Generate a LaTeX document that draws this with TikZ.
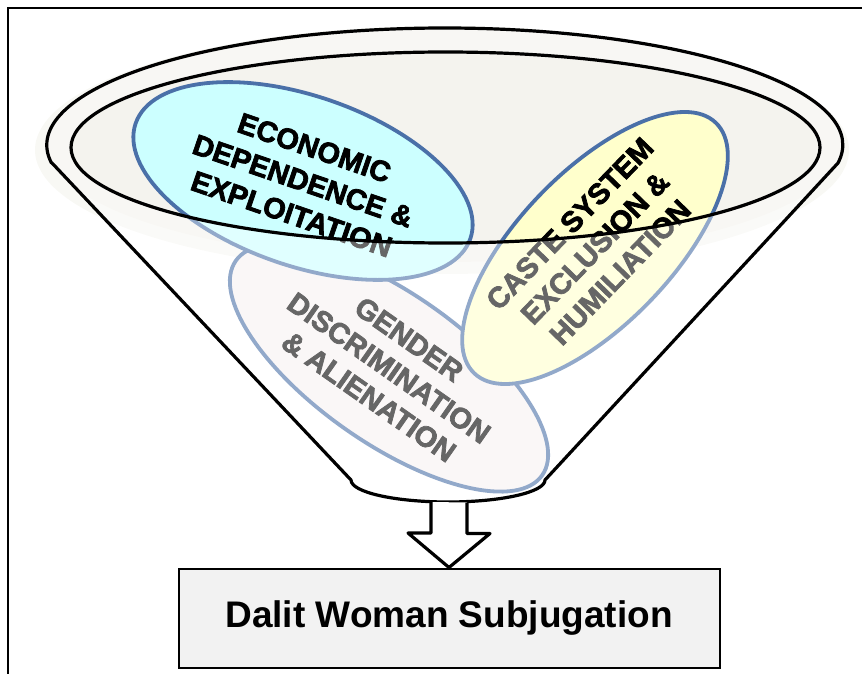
\documentclass[tikz,border=0pt]{standalone}
\usepackage{fontspec}
\setmainfont{Liberation Sans}
\newfontfamily\heavyfont{Liberation Sans Bold}[FakeBold=2.5]
\usetikzlibrary{shapes.geometric}
\definecolor{rimblue}{HTML}{4A70A8}
\definecolor{cyanfill}{HTML}{CCFFFF}
\definecolor{yellowfill}{HTML}{FFFFCC}
\definecolor{pinkfill}{HTML}{F7F2F2}
\definecolor{bowlgray}{HTML}{F4F3EE}
\definecolor{glowgray}{HTML}{F8F8F4}
\definecolor{boxgray}{HTML}{F2F2F2}
\tikzset{
  factor/.style={ellipse,draw=rimblue,line width=3.8pt,inner sep=0pt,align=center,
    font=\heavyfont\fontsize{29}{35}\selectfont},
  funnelline/.style={line width=3.2pt,line join=round},
  resultbox/.style={rectangle,draw,line width=2pt,fill=boxgray,minimum width=541pt,
    minimum height=99pt,font=\bfseries\fontsize{37}{44}\selectfont}
}

\begin{document}
\begin{tikzpicture}[x=1pt,y=-1pt]
            \draw[draw=none,use as bounding box] (0,0) rectangle (862,674);
            \draw[line width=2.4pt] (8,8) rectangle (900,700);
            % bowl of the funnel
            \fill[glowgray] (442,150) ellipse[x radius=407,y radius=124];
            \fill[bowlgray] (445,145) ellipse[x radius=398,y radius=117];
            \node[factor,fill=pinkfill,minimum width=374pt,minimum height=150pt,rotate=-35] (gender) at (389,368) {GENDER\\DISCRIMINATION\\\& ALIENATION};
            \node[factor,fill=yellowfill,minimum width=348pt,minimum height=153pt,rotate=46] (caste) at (595,248) {CASTE SYSTEM\\EXCLUSION \&\\HUMILIATION};
            \node[factor,fill=cyanfill,minimum width=354pt,minimum height=170pt,rotate=-19] (econ) at (303,181) {ECONOMIC\\DEPENDENCE \&\\EXPLOITATION};
            % cone over the factors
            \fill[white,opacity=0.4,even odd rule] (52,163) -- (351,480)
                arc[start angle=180,end angle=0,x radius=97,y radius=22] -- (838,163)
                arc[start angle=8.85,end angle=-188.85,x radius=398,y radius=117] -- cycle
                (445.5,147.5) ellipse[x radius=374.5,y radius=95.5];
            \draw[funnelline] (52,163) -- (351,480)
                arc[start angle=180,end angle=0,x radius=97,y radius=22] -- (838,163)
                arc[start angle=8.85,end angle=-188.85,x radius=398,y radius=117] -- cycle;
            \draw[funnelline] (445.5,147.5) ellipse[x radius=374.5,y radius=95.5];
            \node[resultbox] (result) at (449,618) {Dalit Woman Subjugation};
            \coordinate (spout) at (449,502);
            \draw[funnelline,fill=white] (spout) ++(-18,0) -- ++(0,31) -- ++(-23,0) -- (result.north)
                -- ++(41,-34) -- ++(-23,0) -- ++(0,-31);
\end{tikzpicture}
\end{document}
